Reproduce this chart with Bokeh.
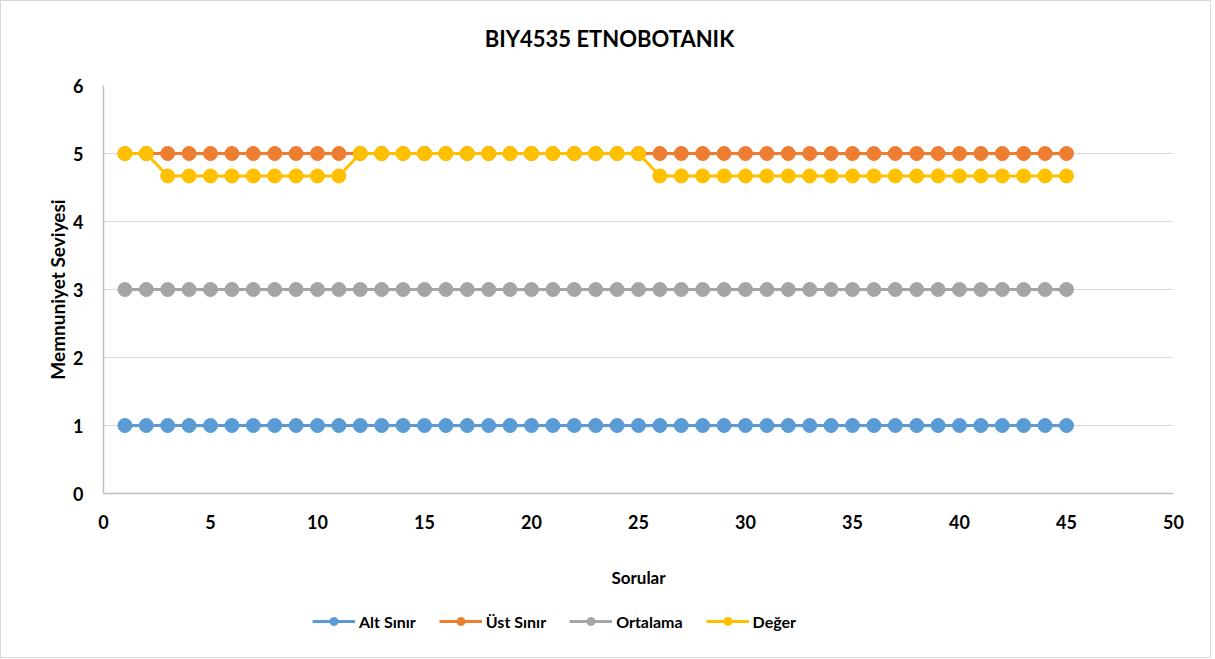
from bokeh.plotting import figure
from bokeh.models import FixedTicker, Legend, LegendItem, Label
from bokeh.layouts import column
from bokeh.embed import file_html
from bokeh.resources import INLINE

questions = list(range(1, 46))
alt_sinir = [1] * 45
ust_sinir = [5] * 45
ortalama = [3] * 45
deger = ([5, 5] + [4.67] * 9 + [5] * 14 + [4.67] * 20)

series_names = ["Alt Sınır", "Üst Sınır", "Ortalama", "Değer"]
series_values = [alt_sinir, ust_sinir, ortalama, deger]
colors = ["#5B9BD5", "#ED7D31", "#A5A5A5", "#FFC000"]

x_ticks = [0, 5, 10, 15, 20, 25, 30, 35, 40, 45, 50]
y_ticks = [0, 1, 2, 3, 4, 5, 6]

title_text = "BIY4535 ETNOBOTANIK"
FONT = "Lato"
W = 1209


def strip(h):
    f = figure(width=W, height=h, x_range=(0, 1), y_range=(0, 1),
               output_backend="svg", toolbar_location=None,
               x_axis_location=None, y_axis_location=None,
               min_border_left=0, min_border_right=0, min_border_top=0,
               min_border_bottom=0)
    f.grid.grid_line_color = None
    f.outline_line_color = None
    return f


# title strip (its frame is aligned with the main plot frame by the column)
tf = strip(50)
tf.add_layout(Label(x=506, y=13, x_units="screen", y_units="screen",
                    text=title_text, text_align="center", text_baseline="middle",
                    text_font=FONT, text_font_size="22px", text_font_style="bold",
                    text_color="#000000"))

p = figure(width=W, height=540, x_range=(0, 50), y_range=(0, 6),
           output_backend="svg", toolbar_location=None,
           min_border_left=102, min_border_right=37, min_border_top=34,
           min_border_bottom=98)
p.outline_line_color = None

p.xgrid.grid_line_color = None
p.ygrid.grid_line_color = "#d9d9d9"
p.ygrid.grid_line_width = 1

p.xaxis.ticker = FixedTicker(ticks=x_ticks)
p.yaxis.ticker = FixedTicker(ticks=y_ticks)
for ax in (p.xaxis, p.yaxis):
    ax.major_tick_line_color = None
    ax.minor_tick_line_color = None
    ax.axis_line_color = "#bfbfbf"
    ax.axis_line_width = 1.5
    ax.major_label_text_font = FONT
    ax.major_label_text_font_size = "18px"
    ax.major_label_text_font_style = "bold"
    ax.major_label_text_color = "#000000"
    ax.axis_label_text_font = FONT
    ax.axis_label_text_font_style = "bold"
    ax.axis_label_text_color = "#000000"

p.xaxis.axis_label = "Sorular"
p.yaxis.axis_label = "Memnuniyet Seviyesi"
p.xaxis.axis_label_text_font_size = "17px"
p.yaxis.axis_label_text_font_size = "19px"
p.xaxis.major_label_standoff = 15
p.xaxis.axis_label_standoff = 35
p.yaxis.major_label_standoff = 14
p.yaxis.axis_label_standoff = 1

for name, vals, col in zip(series_names, series_values, colors):
    p.line(questions, vals, line_color=col, line_width=3)
    p.scatter(questions, vals, size=14, fill_color=col, line_color=col)

# legend strip below the chart
lf = strip(66)
items = []
for name, col in zip(series_names, colors):
    ln = lf.line([float("nan")], [float("nan")], line_color=col, line_width=3)
    sc = lf.scatter([float("nan")], [float("nan")], size=10, fill_color=col, line_color=col)
    items.append(LegendItem(label=name, renderers=[ln, sc]))

legend = Legend(items=items, orientation="horizontal", location=(209, 26),
                border_line_color=None, background_fill_alpha=0,
                label_text_font=FONT, label_text_font_size="16px",
                label_text_font_style="bold", label_text_color="#000000",
                glyph_width=43, glyph_height=20, spacing=23, label_standoff=4,
                padding=0, margin=0)
lf.add_layout(legend)

layout = column(tf, p, lf, spacing=0)
layout.styles = {"border": "1px solid #d9d9d9"}

open("out.html", "w").write(file_html(layout, INLINE))
